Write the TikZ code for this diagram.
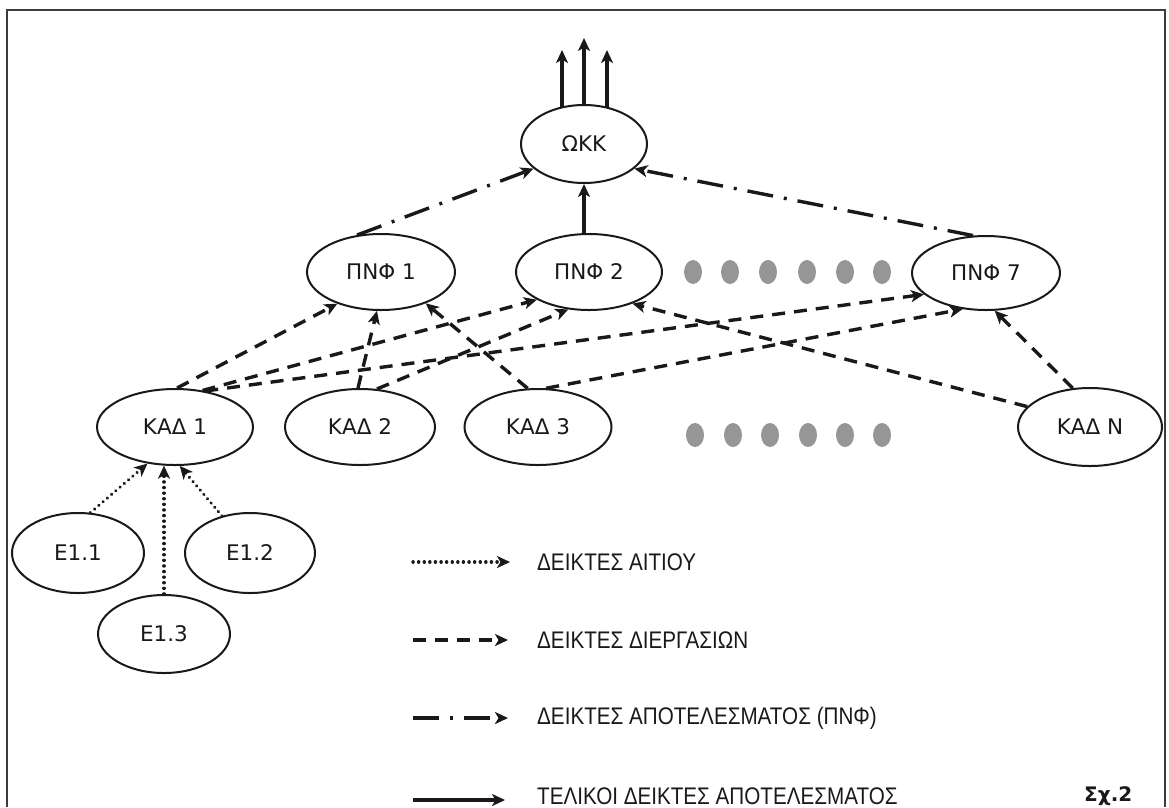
\documentclass[tikz,border=0pt]{standalone}
\usepackage{fontspec}
\setmainfont{DejaVu Sans}
\newfontfamily\legfont[FakeStretch=0.86]{Liberation Sans}
\usetikzlibrary{arrows.meta,shapes.geometric}
\definecolor{dotgray}{RGB}{150,150,150}
\definecolor{ink}{RGB}{25,25,25}
\begin{document}
\begin{tikzpicture}[x=1pt,y=-1pt,
  ell/.style={draw=ink, ellipse, line width=2pt, inner sep=0pt, font=\fontsize{21.5}{24}\selectfont, text=ink},
  dotnode/.style={ellipse, fill=dotgray, inner sep=0pt, minimum width=18pt, minimum height=24pt},
  arr/.style={-{Stealth[length=13pt,width=12pt,inset=3.5pt]}},
  dsh/.style={draw=ink, line width=3.4pt, dash pattern=on 13pt off 9pt, arr},
  dd/.style={draw=ink, line width=3.4pt, dash pattern=on 26pt off 11pt on 3pt off 11pt, arr},
  dtt/.style={draw=ink, line width=3.4pt, line cap=round, dash pattern=on 0.1pt off 5.5pt, arr},
  sol/.style={draw=ink, line width=3.2pt, arr},
  leg/.style={anchor=west, inner sep=0pt, font=\legfont\fontsize{24}{28}\selectfont, text=ink}
]
\useasboundingbox (0,0) rectangle (1169,807);
% frame
\draw[line width=2.8pt, draw=ink!85] (7,807) -- (7,10) -- (1165,10) -- (1165,807);

% nodes
\node[ell, minimum width=126pt, minimum height=78pt] (okk) at (584,144) {ΩΚΚ};
\node[ell, minimum width=148pt, minimum height=76pt] (p1) at (381,272) {ΠΝΦ 1};
\node[ell, minimum width=146pt, minimum height=76pt] (p2) at (589,272) {ΠΝΦ 2};
\node[ell, minimum width=148pt, minimum height=74pt] (p7) at (986,273) {ΠΝΦ 7};
\node[ell, minimum width=156pt, minimum height=76pt] (k1) at (175,427) {ΚΑΔ 1};
\node[ell, minimum width=150pt, minimum height=76pt] (k2) at (360,427) {ΚΑΔ 2};
\node[ell, minimum width=147pt, minimum height=76pt] (k3) at (538,427) {ΚΑΔ 3};
\node[ell, minimum width=144pt, minimum height=78pt] (kn) at (1090,427) {ΚΑΔ Ν};
\node[ell, minimum width=132pt, minimum height=80pt] (e11) at (78,553) {Ε1.1};
\node[ell, minimum width=130pt, minimum height=80pt] (e12) at (250,553) {Ε1.2};
\node[ell, minimum width=132pt, minimum height=78pt] (e13) at (164,634) {Ε1.3};

% dots
\foreach \x in {693,730,768,807,845,882} \node[dotnode] (da\x) at (\x,272) {};
\foreach \x in {695,733,770,808,845,882} \node[dotnode] (db\x) at (\x,435) {};

% top output arrows
\coordinate (a1) at (562,50);
\coordinate (a2) at (584,38);
\coordinate (a3) at (607,50);
\draw[sol] (a1 |- okk.121) -- (a1);
\draw[sol] (okk.north) -- (a2);
\draw[sol] (a3 |- okk.59) -- (a3);

% PNF -> OKK
\draw[dd] (p1.123) -- (okk.206);
\draw[sol] (p2.north -| okk.south) -- (okk.south);
\draw[dd] (p7.109) -- (okk.334);

% KAD -> PNF
\draw[dsh] (k1.87) -- (p1.216);
\draw[dsh] (k1.53) -- (p2.208);
\draw[dsh] (k1.50) -- (p7.199);
\draw[dsh] (k2.93) -- (p1.264);
\draw[dsh] (k2.66) -- (p2.241);
\draw[dsh] (k3.105) -- (p1.325);
\draw[dsh] (k3.78) -- (p7.237);
\draw[dsh] (kn.162) -- (p2.324);
\draw[dsh] (kn.114) -- (p7.283);

% E -> KAD1
\draw[dtt] (e11.73) -- (k1.233);
\draw[dtt] (e13.north) -- (e13.north |- k1.254);
\draw[dtt] (e12.127) -- (k1.277);

% legend
\coordinate (l1a) at (413,562); \coordinate (l1b) at (510,562);
\coordinate (l2a) at (413,640); \coordinate (l2b) at (508,640);
\coordinate (l3a) at (413,718); \coordinate (l3b) at (508,718);
\coordinate (l4a) at (413,800); \coordinate (l4b) at (505,800);
\draw[dtt] (l1a) -- (l1b);
\draw[dsh] (l2a) -- (l2b);
\draw[dd] (l3a) -- (l3b);
\draw[sol] (l4a) -- (l4b);
\node[leg] (t1) at (537,562) {ΔΕΙΚΤΕΣ ΑΙΤΙΟΥ};
\node[leg] (t2) at (537,640) {ΔΕΙΚΤΕΣ ΔΙΕΡΓΑΣΙΩΝ};
\node[leg] (t3) at (537,718) {ΔΕΙΚΤΕΣ ΑΠΟΤΕΛΕΣΜΑΤΟΣ (ΠΝΦ)};
\node[leg] (t4) at (537,796) {ΤΕΛΙΚΟΙ ΔΕΙΚΤΕΣ ΑΠΟΤΕΛΕΣΜΑΤΟΣ};
\node[anchor=west, inner sep=0pt, font=\bfseries\fontsize{20}{24}\selectfont, text=ink] (sx) at (1084,796) {Σχ.2};
\end{tikzpicture}
\end{document}
